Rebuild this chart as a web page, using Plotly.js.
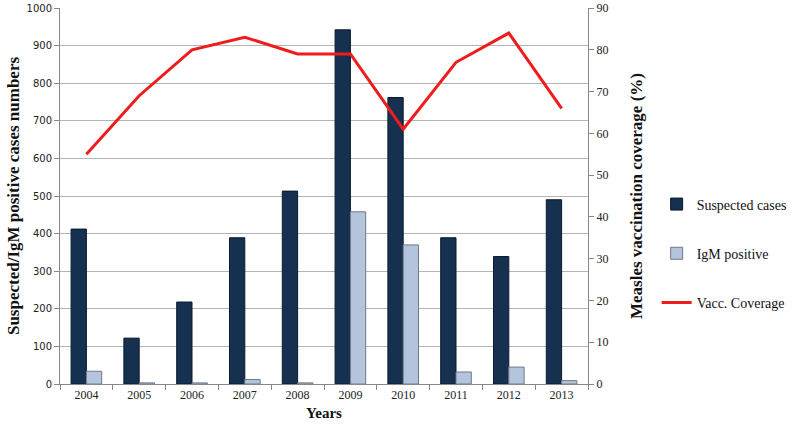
<!DOCTYPE html>
<html>
<head>
<meta charset="utf-8">
<script src="https://cdn.plot.ly/plotly-3.0.1.min.js"></script>
<style>
  html, body { margin: 0; padding: 0; background: #fff; }
  #chart { width: 800px; height: 427px; }
</style>
</head>
<body>
<div id="chart"></div>
<script>
  // values
  const years = ['2004', '2005', '2006', '2007', '2008', '2009', '2010', '2011', '2012', '2013'];
  const suspected = [412, 122, 218, 389, 513, 942, 762, 389, 339, 490];
  const igmPositive = [34, 3, 3, 12, 3, 458, 370, 32, 45, 9];
  const vaccCoverage = [55, 69, 80, 83, 79, 79, 61, 77, 84, 66];

  const serif = '"Liberation Serif", "Times New Roman", serif';

  const traces = [
    {
      x: years, y: suspected, type: 'bar', name: 'Suspected cases',
      marker: { color: '#16304f', line: { color: '#0b1a2e', width: 1 } },
      legendgroup: 'a'
    },
    {
      x: years, y: igmPositive, type: 'bar', name: 'IgM positive',
      marker: { color: '#b3c4dc', line: { color: '#6f7a88', width: 1 } },
      legendgroup: 'b'
    },
    {
      x: years, y: vaccCoverage, type: 'scatter', mode: 'lines', name: 'Vacc. Coverage',
      yaxis: 'y2',
      line: { color: '#ee1c1c', width: 3 },
      legendgroup: 'c'
    }
  ];

  const layout = {
    width: 800, height: 427,
    paper_bgcolor: '#fff', plot_bgcolor: '#fff',
    font: { family: serif, size: 12, color: '#222' },
    margin: { l: 60, r: 203, t: 8, b: 43 },
    barmode: 'group', bargap: 0.42, bargroupgap: 0,
    showlegend: true,
    legend: {
      x: 1.13, y: 0.52, xanchor: 'left', yanchor: 'top',
      font: { family: serif, size: 14, color: '#111' },
      tracegroupgap: 28, bgcolor: 'rgba(0,0,0,0)'
    },
    xaxis: {
      type: 'category',
      tickson: 'boundaries', ticks: 'outside', ticklen: 5, tickcolor: '#888',
      showline: true, linecolor: '#888', linewidth: 1,
      showgrid: false,
      tickfont: { family: serif, size: 12, color: '#222' },
      title: { text: '<b>Years</b>', font: { family: serif, size: 15, color: '#111' }, standoff: 6 }
    },
    yaxis: {
      range: [0, 1000], dtick: 100,
      showline: true, linecolor: '#888', linewidth: 1,
      ticks: 'outside', ticklen: 5, tickcolor: '#888',
      gridcolor: '#b4b4b4', gridwidth: 1, zeroline: false,
      tickfont: { family: '"DejaVu Sans", sans-serif', size: 10, color: '#222' },
      title: { text: '<b>Suspected/IgM positive cases numbers</b>', font: { family: serif, size: 17, color: '#111' }, standoff: 2 }
    },
    yaxis2: {
      overlaying: 'y', side: 'right',
      range: [0, 90], dtick: 10,
      showline: true, linecolor: '#888', linewidth: 1,
      ticks: 'outside', ticklen: 5, tickcolor: '#888',
      showgrid: false, zeroline: false,
      tickfont: { family: serif, size: 12, color: '#222' },
      title: { text: '<b>Measles vaccination coverage (%)</b>', font: { family: serif, size: 17, color: '#111' }, standoff: 22 }
    }
  };

  Plotly.newPlot('chart', traces, layout, { displayModeBar: false, staticPlot: true });
</script>
</body>
</html>
